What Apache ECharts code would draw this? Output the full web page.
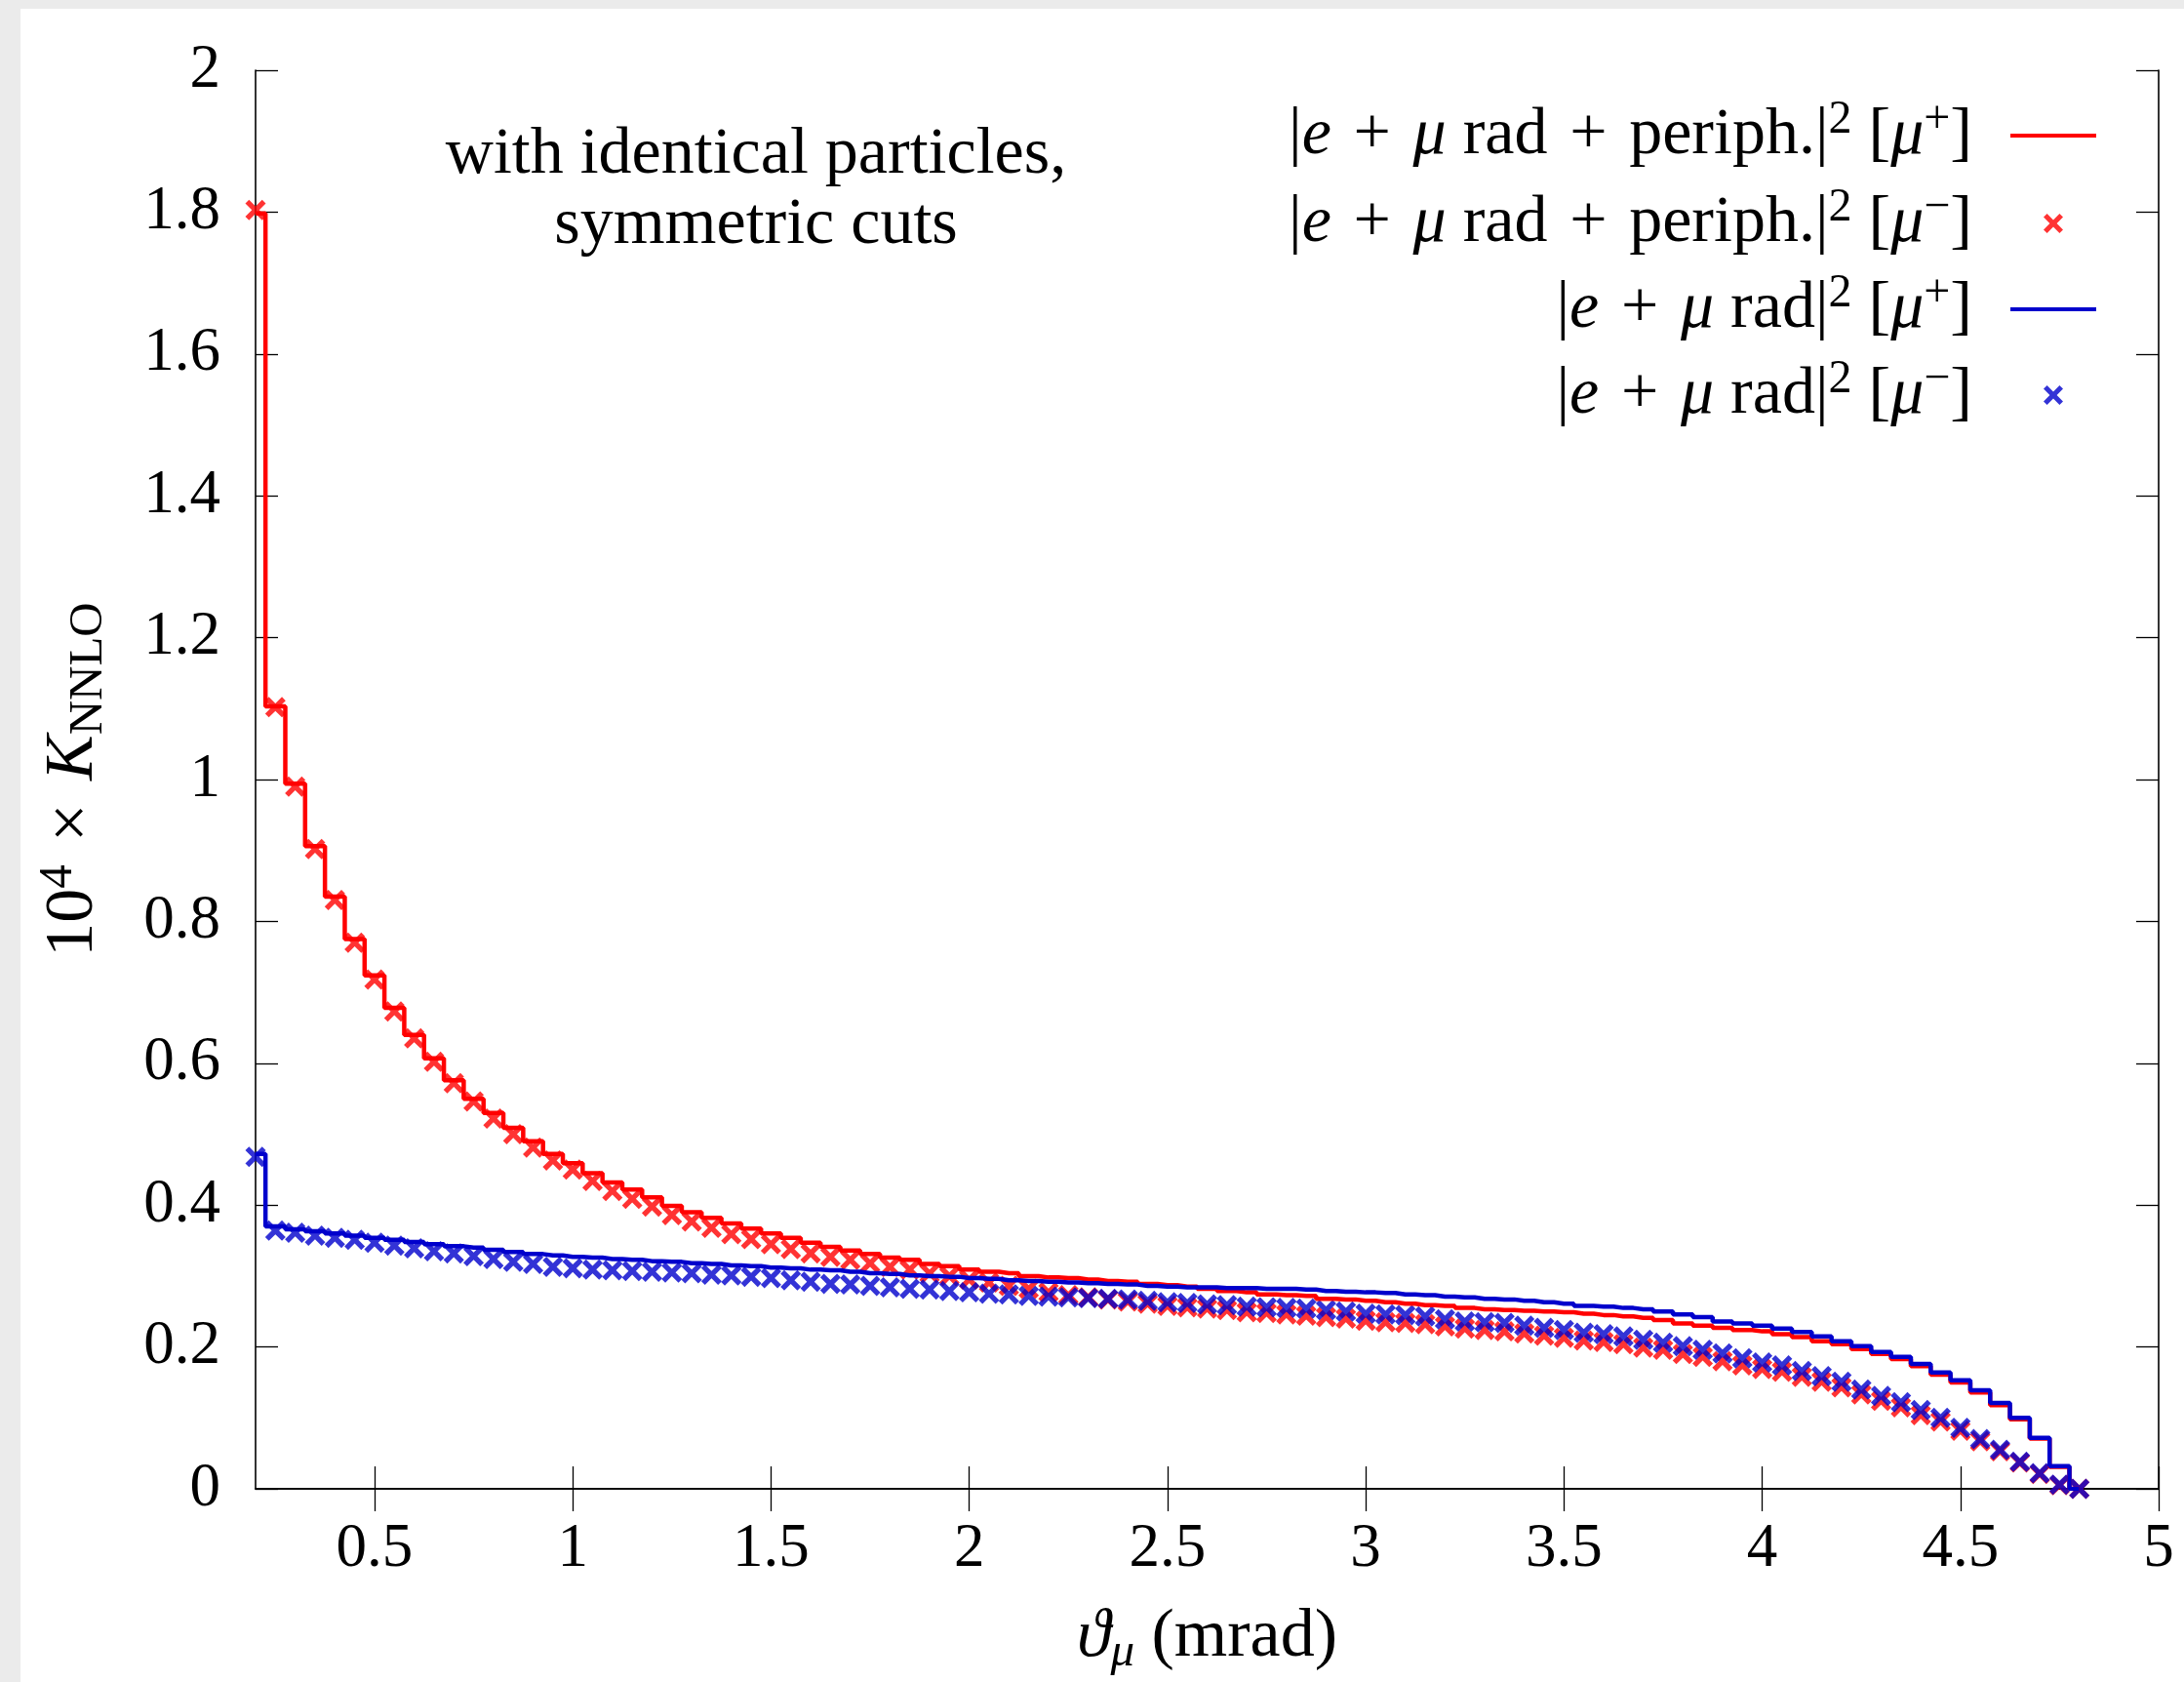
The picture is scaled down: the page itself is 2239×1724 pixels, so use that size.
<!DOCTYPE html>
<html><head><meta charset="utf-8">
<script src="https://cdn.jsdelivr.net/npm/echarts@6/dist/echarts.min.js"></script>
<style>
html,body{margin:0;padding:0;background:#ebebeb;width:2239px;height:1724px;overflow:hidden}
#chart{position:absolute;left:21px;top:9px;width:2218px;height:1715px;background:#fff}
</style></head><body><div id="chart"></div>
<script>
// ---- data ----
const xValues = [
0.20,0.25,0.30,0.35,0.40,0.45,0.50,0.55,0.60,0.65,
0.70,0.75,0.80,0.85,0.90,0.95,1.00,1.05,1.10,1.15,
1.20,1.25,1.30,1.35,1.40,1.45,1.50,1.55,1.60,1.65,
1.70,1.75,1.80,1.85,1.90,1.95,2.00,2.05,2.10,2.15,
2.20,2.25,2.30,2.35,2.40,2.45,2.50,2.55,2.60,2.65,
2.70,2.75,2.80,2.85,2.90,2.95,3.00,3.05,3.10,3.15,
3.20,3.25,3.30,3.35,3.40,3.45,3.50,3.55,3.60,3.65,
3.70,3.75,3.80,3.85,3.90,3.95,4.00,4.05,4.10,4.15,
4.20,4.25,4.30,4.35,4.40,4.45,4.50,4.55,4.60,4.65,
4.70,4.75,4.80];
// |e + mu rad + periph.|^2 [mu+]  (step line, red)
const radPeriphMuPlus = [
1.798,1.103,0.994,0.906,0.835,0.775,0.724,0.678,0.640,0.607,
0.576,0.550,0.530,0.509,0.490,0.472,0.459,0.445,0.432,0.422,
0.411,0.399,0.390,0.382,0.374,0.367,0.360,0.354,0.347,0.341,
0.336,0.331,0.326,0.323,0.317,0.314,0.309,0.306,0.304,0.300,
0.298,0.297,0.295,0.293,0.292,0.289,0.287,0.285,0.282,0.279,
0.277,0.274,0.273,0.272,0.268,0.267,0.265,0.263,0.261,0.259,
0.258,0.255,0.253,0.252,0.251,0.250,0.249,0.247,0.245,0.243,
0.241,0.238,0.233,0.230,0.227,0.224,0.222,0.218,0.214,0.208,
0.204,0.197,0.190,0.183,0.173,0.161,0.150,0.136,0.118,0.098,
0.071,0.031,0.000];
// |e + mu rad + periph.|^2 [mu-]  (crosses, red)
const radPeriphMuMinus = [
1.803,1.102,0.990,0.902,0.830,0.770,0.718,0.673,0.635,0.602,
0.572,0.546,0.522,0.500,0.481,0.463,0.450,0.434,0.420,0.409,
0.398,0.386,0.377,0.368,0.359,0.352,0.345,0.338,0.332,0.327,
0.323,0.318,0.313,0.309,0.304,0.300,0.295,0.291,0.286,0.282,
0.277,0.273,0.270,0.267,0.264,0.261,0.258,0.256,0.254,0.252,
0.249,0.248,0.246,0.244,0.242,0.240,0.237,0.235,0.234,0.232,
0.229,0.226,0.224,0.222,0.219,0.216,0.213,0.209,0.207,0.204,
0.199,0.196,0.190,0.186,0.180,0.174,0.169,0.165,0.158,0.151,
0.143,0.133,0.124,0.115,0.104,0.095,0.082,0.067,0.053,0.037,
0.021,0.005,0.000];
// |e + mu rad|^2 [mu+]  (step line, blue)
const radMuPlus = [
0.472,0.370,0.366,0.363,0.360,0.357,0.354,0.351,0.348,0.345,
0.342,0.340,0.337,0.334,0.331,0.329,0.327,0.326,0.324,0.323,
0.321,0.320,0.318,0.317,0.315,0.314,0.312,0.311,0.309,0.308,
0.306,0.304,0.303,0.301,0.300,0.299,0.297,0.296,0.294,0.293,
0.292,0.291,0.290,0.289,0.288,0.286,0.285,0.284,0.284,0.283,
0.283,0.282,0.282,0.281,0.279,0.278,0.277,0.276,0.274,0.273,
0.271,0.270,0.268,0.267,0.265,0.263,0.261,0.258,0.257,0.255,
0.253,0.250,0.246,0.242,0.236,0.233,0.230,0.226,0.221,0.215,
0.208,0.201,0.193,0.186,0.176,0.164,0.153,0.139,0.121,0.100,
0.072,0.032,0.000];
// |e + mu rad|^2 [mu-]  (crosses, blue)
const radMuMinus = [
0.468,0.364,0.361,0.357,0.354,0.351,0.347,0.343,0.339,0.335,
0.332,0.328,0.324,0.320,0.317,0.313,0.311,0.309,0.308,0.307,
0.306,0.305,0.304,0.302,0.301,0.299,0.297,0.294,0.292,0.289,
0.288,0.286,0.284,0.282,0.281,0.279,0.277,0.275,0.274,0.272,
0.271,0.270,0.269,0.268,0.267,0.265,0.263,0.262,0.260,0.259,
0.257,0.256,0.255,0.254,0.252,0.250,0.247,0.246,0.245,0.243,
0.239,0.236,0.235,0.234,0.230,0.227,0.224,0.220,0.218,0.215,
0.210,0.206,0.201,0.196,0.191,0.184,0.178,0.174,0.166,0.159,
0.151,0.140,0.131,0.122,0.111,0.100,0.086,0.070,0.055,0.038,
0.022,0.006,0.000];
const xTicks = [0.5,1,1.5,2,2.5,3,3.5,4,4.5,5];
const yTicks = [0,0.2,0.4,0.6,0.8,1,1.2,1.4,1.6,1.8,2];
const seriesNames = ['rpPlus','rpMinus','rPlus','rMinus'];
const SP = '\u2004';
const legendTexts = [
  '{t||}{i|e}{t|' + SP + '+' + SP + '}{i|μ}{t| rad' + SP + '+' + SP + 'periph.|}{sup|2}{t| [}{i|μ}{sup|+}{t|]}',
  '{t||}{i|e}{t|' + SP + '+' + SP + '}{i|μ}{t| rad' + SP + '+' + SP + 'periph.|}{sup|2}{t| [}{i|μ}{sup|−}{t|]}',
  '{t||}{i|e}{t|' + SP + '+' + SP + '}{i|μ}{t| rad|}{sup|2}{t| [}{i|μ}{sup|+}{t|]}',
  '{t||}{i|e}{t|' + SP + '+' + SP + '}{i|μ}{t| rad|}{sup|2}{t| [}{i|μ}{sup|−}{t|]}'
];
const annotationLines = ['with identical particles,', 'symmetric cuts'];
const xAxisTitle = '{i|ϑ}{subi|μ}{n| (mrad)}';
const yAxisTitle = '{n|10}{sup|4}{n|' + SP + '×' + SP + '}{i|K}{sub|NNLO}';

// ---- styling ----
const FONT = "'Liberation Serif','DejaVu Serif',serif";
const RED = '#ff0000', BLUE = '#0000cc';
const XPATH = 'path://M0,18L18,0L50,32L82,0L100,18L68,50L100,82L82,100L50,68L18,100L0,82L32,50Z';
const pair = ys => xValues.map((x, i) => [x, ys[i]]);
const rich = (fs, lh, extra) => Object.assign({
  t: {fontFamily: FONT, fontSize: fs, lineHeight: lh, color: '#000'},
  n: {fontFamily: FONT, fontSize: fs, lineHeight: lh, color: '#000'},
  i: {fontFamily: FONT, fontSize: fs, lineHeight: lh, fontStyle: 'italic', color: '#000'},
  sup: {fontFamily: FONT, fontSize: Math.round(fs * 0.7), lineHeight: Math.round(fs * 0.62), verticalAlign: 'top', color: '#000'},
  sub: {fontFamily: FONT, fontSize: Math.round(fs * 0.7), lineHeight: Math.round(fs * 0.62), verticalAlign: 'bottom', color: '#000'},
  subi: {fontFamily: FONT, fontSize: Math.round(fs * 0.7), lineHeight: Math.round(fs * 0.62), verticalAlign: 'bottom', fontStyle: 'italic', color: '#000'}
}, extra || {});

const axisLine = {show: true, lineStyle: {color: '#000', width: 1.6}};
const axisTick = (vals) => ({show: true, inside: true, length: 23, lineStyle: {color: '#000', width: 1.3}, customValues: vals});

const chart = echarts.init(document.getElementById('chart'));

const LFS = 68, LLH = 80;
const rowCenters = [130, 220, 308, 396];
const legends = seriesNames.map((nm, k) => {
  const isLine = (k % 2 === 0);
  const gap = isLine ? 34 : 68;
  return {
    data: [{name: nm, icon: isLine ? 'rect' : XPATH}],
    orient: 'vertical', align: 'right',
    right: isLine ? 90 : 124,
    top: rowCenters[k] - LLH / 2,
    padding: 0,
    itemWidth: isLine ? 88 : 20,
    itemHeight: isLine ? 4 : 20,
    selectedMode: false,
    itemStyle: {borderWidth: 0},
    formatter: () => legendTexts[k] + '{gap| }',
    textStyle: {rich: rich(LFS, LLH, {gap: {width: gap, fontSize: 10, lineHeight: LLH}})}
  };
});

chart.setOption({
  animation: false,
  backgroundColor: '#ffffff',
  grid: {left: 241, top: 63, width: 1951, height: 1466, containLabel: false},
  xAxis: [{
    type: 'value', min: 0.2, max: 5, position: 'bottom',
    axisLine: axisLine, axisTick: axisTick(xTicks), splitLine: {show: false},
    axisLabel: {customValues: xTicks, margin: 31, fontFamily: FONT, fontSize: 63, color: '#000'},
    name: xAxisTitle, nameLocation: 'middle', nameGap: 113,
    nameTextStyle: {rich: rich(70, 80)}
  }, {
    type: 'value', min: 0.2, max: 5, position: 'top',
    axisLine: axisLine, axisTick: axisTick(xTicks), splitLine: {show: false},
    axisLabel: {show: false}
  }],
  yAxis: [{
    type: 'value', min: 0, max: 2, interval: 0.2, position: 'left',
    axisLine: axisLine, axisTick: axisTick(yTicks), splitLine: {show: false},
    axisLabel: {margin: 36, fontFamily: FONT, fontSize: 63, color: '#000'},
    name: yAxisTitle, nameLocation: 'middle', nameRotate: 90, nameGap: 146,
    nameTextStyle: {rich: rich(70, 80)}
  }, {
    type: 'value', min: 0, max: 2, interval: 0.2, position: 'right',
    axisLine: axisLine, axisTick: axisTick(yTicks), splitLine: {show: false},
    axisLabel: {show: false}
  }],
  legend: legends,
  graphic: annotationLines.map((s, k) => ({
    type: 'text', x: 754, y: 150 + 72 * k, silent: true,
    style: {text: s, fontFamily: FONT, fontSize: 68, fill: '#000',
      textAlign: 'center', align: 'center', textVerticalAlign: 'middle', verticalAlign: 'middle'}
  })),
  series: [
    {name: seriesNames[0], type: 'line', step: 'middle', data: pair(radPeriphMuPlus),
     showSymbol: false, symbol: 'none', color: RED, lineStyle: {color: RED, width: 4.5}, itemStyle: {color: RED}},
    {name: seriesNames[1], type: 'scatter', data: pair(radPeriphMuMinus), clip: false,
     symbol: XPATH, symbolSize: 21, itemStyle: {color: RED}},
    {name: seriesNames[2], type: 'line', step: 'middle', data: pair(radMuPlus),
     showSymbol: false, symbol: 'none', color: BLUE, lineStyle: {color: BLUE, width: 4.5}, itemStyle: {color: BLUE}},
    {name: seriesNames[3], type: 'scatter', data: pair(radMuMinus), clip: false,
     symbol: XPATH, symbolSize: 21, itemStyle: {color: BLUE}}
  ]
});
</script></body></html>
